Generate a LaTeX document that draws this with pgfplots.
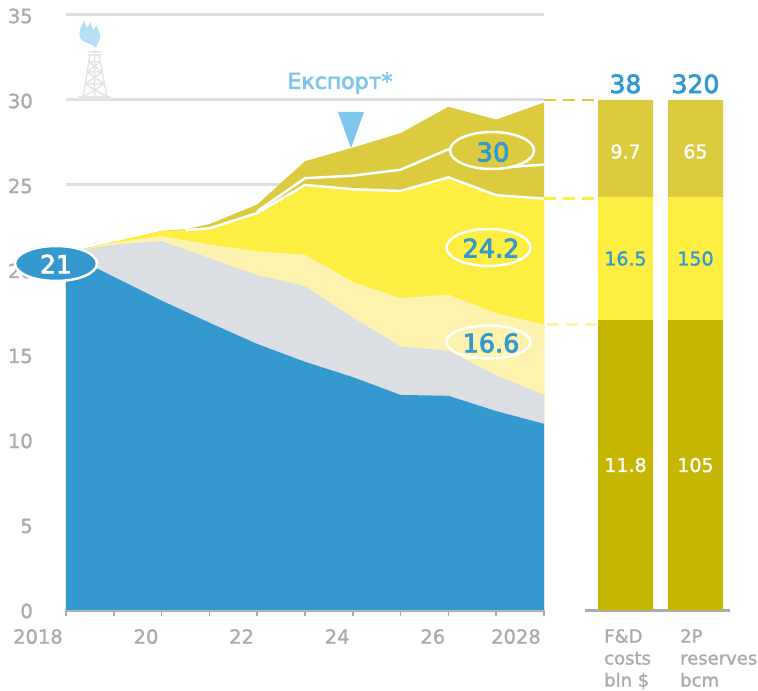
\documentclass[border=0pt]{standalone}
\usepackage{pgfplots}
\usepackage{pgfplotstable}
\usepackage{fontspec}
\setmainfont[FakeBold=1.5]{DejaVu Sans}
\newfontfamily\medfont[FakeBold=3]{DejaVu Sans}
\pgfplotsset{compat=1.18}
\definecolor{cblue}{HTML}{3399CF}
\definecolor{cgrey}{HTML}{DBDEE3}
\definecolor{cpale}{HTML}{FDF3AE}
\definecolor{cyel}{HTML}{FFEE42}
\definecolor{cdark}{HTML}{DCCA3F}
\definecolor{colive}{HTML}{C7B700}
\definecolor{ctext}{HTML}{A9ABB0}
\definecolor{csky}{HTML}{7EC6EC}
\definecolor{cgrid}{HTML}{DDDFE3}
\definecolor{cflame}{HTML}{B4E1F6}
\definecolor{crig}{HTML}{E3E5E9}

% cumulative levels, x = tick index (0 = 2018)
\pgfplotstableread{
x   blue  grey  pale  yel   mid   top
0   21.0  21.0  21.0  21.0  21.0  21.0
1   19.6  21.5  21.6  21.65 21.65 21.65
2   18.2  21.7  22.0  22.3  22.3  22.3
2.5 17.55 21.2  21.75 22.35 22.38 22.4
3   16.9  20.7  21.5  22.45 22.5  22.7
4   15.65 19.7  21.1  23.35 23.45 23.85
5   14.6  19.05 20.9  25.0  25.4  26.4
6   13.7  17.2  19.3  24.75 25.55 27.2
7   12.65 15.5  18.35 24.65 25.9  28.05
8   12.6  15.25 18.55 25.45 27.1  29.6
9   11.7  13.8  17.45 24.4  26.0  28.85
10  10.95 12.65 16.8  24.2  26.2  29.85
}\levels

\pgfplotsset{
  tlabel/.style={font=\fontsize{19.5}{24}\selectfont, text=ctext},
}

\begin{document}
\begin{tikzpicture}[x=1pt,y=1pt]
\useasboundingbox (0,0) rectangle (758,691);

\begin{axis}[
    name=areas,
    at={(66pt,81pt)}, anchor=origin,
    scale only axis, width=478pt, height=595pt,
    xmin=0, xmax=10, ymin=0, ymax=35,
    clip=false,
    axis x line*=bottom,
    axis y line*=left,
    y axis line style={draw=none},
    x axis line style={draw=ctext, line width=3pt, -},
    xtick={0,...,10},
    xticklabels={2018,,20,,22,,24,,26,,2028},
    ytick={0,5,...,35},
    tick align=outside,
    major tick length=6pt,
    x tick style={draw=ctext, line width=1.6pt},
    y tick style={draw=none},
    ymajorgrids,
    grid style={draw=cgrid, line width=3pt},
    /pgf/number format/assume math mode=true,
    tick label style={tlabel},
    xticklabel style={anchor=north east, inner sep=0pt, xshift=-3pt, yshift=-13pt},
    yticklabel style={anchor=east, inner sep=0pt, xshift=-27pt, yshift=-1pt},
  ]
  \addplot[fill=cdark, draw=none] table[x=x, y=top] {\levels} \closedcycle;
  \addplot[fill=cyel, draw=none] table[x=x, y=yel] {\levels} \closedcycle;
  \addplot[fill=cpale, draw=none] table[x=x, y=pale] {\levels} \closedcycle;
  \addplot[fill=cgrey, draw=none] table[x=x, y=grey] {\levels} \closedcycle;
  \addplot[fill=cblue, draw=none] table[x=x, y=blue] {\levels} \closedcycle;
  % white seams
  \addplot[white, line width=2.5pt, forget plot, restrict x to domain=2.5:10] table[x=x, y=yel] {\levels};
  \addplot[white, line width=2.5pt, forget plot, restrict x to domain=4:10] table[x=x, y=mid] {\levels};
  % connectors to the bars
  \addplot[cdark, line width=2.5pt, dash pattern=on 12pt off 7pt] coordinates {(10,30) (11.05,30)};
  \addplot[cyel, line width=2.5pt, dash pattern=on 12pt off 7pt] coordinates {(10,24.2) (11.05,24.2)};
  \addplot[cpale, line width=2.5pt, dash pattern=on 12pt off 7pt] coordinates {(10.07,16.8) (11.15,16.8)};
\end{axis}

\begin{axis}[
    at={(585pt,81pt)}, anchor=origin,
    scale only axis, width=145pt, height=595pt,
    xmin=585, xmax=730, ymin=0, ymax=35,
    clip=false,
    ybar stacked, bar width=55pt,
    axis x line*=bottom,
    axis y line=none,
    x axis line style={draw=ctext, line width=3pt, -},
    xtick={604,680},
    xticklabels={F\&D\\[2pt]costs\\[2pt]bln \$, 2P\\[2pt]reserves\\[2pt]bcm},
    xtick style={draw=none},
    tick label style={tlabel},
    xticklabel style={anchor=north west, align=left, inner sep=0pt, yshift=-19pt,
      font=\fontsize{18}{20}\selectfont},
    point meta=explicit symbolic,
    nodes near coords,
  ]
  \addplot[fill=colive, draw=none, nodes near coords style={anchor=center,
      text=white, font=\fontsize{19}{24}\selectfont}]
    coordinates {(625.5,17.05) [11.8] (695.5,17.05) [105]};
  \addplot[fill=cyel, draw=none, nodes near coords style={anchor=center,
      text=cblue, font=\fontsize{19}{24}\selectfont}]
    coordinates {(625.5,7.25) [16.5] (695.5,7.25) [150]};
  \addplot[fill=cdark, draw=none, nodes near coords style={anchor=center, yshift=-3pt,
      text=white, font=\fontsize{19}{24}\selectfont}]
    coordinates {(625.5,5.7) [9.7] (695.5,5.7) [65]};
  \addplot[fill=none, draw=none, nodes near coords style={anchor=center, yshift=16pt,
      text=cblue, font=\fontsize{25}{30}\medfont}]
    coordinates {(625.5,0.01) [38] (695.5,0.01) [320]};
\end{axis}

% annotations, in image pixels
\begin{scope}[shift={(0,691)}, y=-1pt]
  \draw[white, line width=2.5pt, fill=cblue] (56,263.5) ellipse (41 and 17.5);
  \node[text=white, font=\fontsize{25}{30}\medfont] at (56,264) {21};
  \draw[white, line width=2.5pt, fill=cdark] (492,150.5) ellipse (42 and 18.5);
  \node[text=cblue, font=\fontsize{26}{30}\medfont] at (493,152) {30};
  \draw[white, line width=2.5pt, fill=cyel] (488.5,247.5) ellipse (42 and 18.5);
  \node[text=cblue, font=\fontsize{25.5}{30}\medfont] at (491,248) {24.2};
  \draw[white, line width=2.5pt, fill=cpale] (488.5,342) ellipse (42 and 16.5);
  \node[text=cblue, font=\fontsize{25.5}{30}\medfont] at (491,343) {16.6};

  \fill[csky] (338,112) -- (364,112) -- (351,148) -- cycle;
  \node[text=csky, font=\fontsize{22}{26}\medfont] at (340,83) {Експорт*};

  % gas derrick
  \fill[crig] (78,96) rectangle (111,100);
  \draw[crig, line width=1.5pt]
    (83,97) -- (90,55) (107,97) -- (99,55) (94.5,97) -- (94.5,50)
    (88,52) -- (101,52) (88,55) -- (101,55)
    (88.5,62) -- (100.5,62) (87,72) -- (102,72) (85,84) -- (104,84)
    (88.5,62) -- (102,72) (100.5,62) -- (87,72)
    (87,72) -- (104,84) (102,72) -- (85,84)
    (85,84) -- (107,97) (104,84) -- (83,97);
  \fill[cflame] (96,48) .. controls (92,42) and (80,44) .. (79.5,35)
    .. controls (79,29) and (82,26) .. (84,20.5)
    .. controls (85,24) and (86,26) .. (87,28)
    .. controls (88,26) and (90,24) .. (90.8,22)
    .. controls (91,25) and (92,27) .. (93,30)
    .. controls (94,29) and (96,27) .. (96.8,25)
    .. controls (97,29) and (100,32) .. (100,37)
    .. controls (100,41) and (97,44) .. cycle;
\end{scope}
\end{tikzpicture}
\end{document}
